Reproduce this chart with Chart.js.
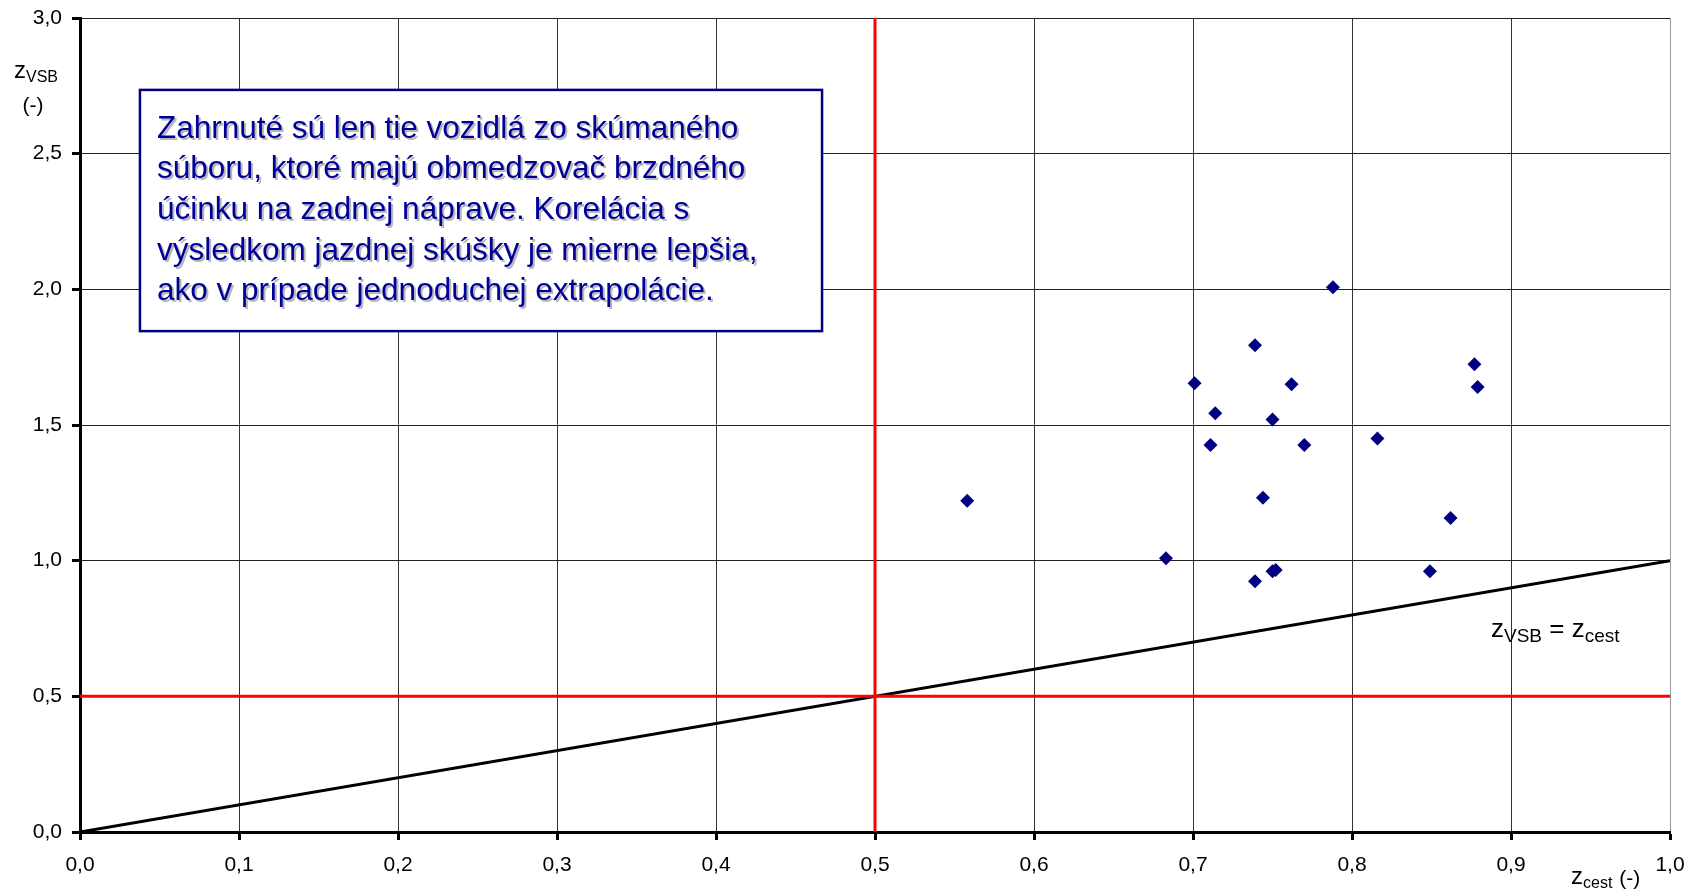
<!DOCTYPE html>
<html>
<head>
<meta charset="utf-8">
<script src="https://cdn.jsdelivr.net/npm/chart.js@4.4.1/dist/chart.umd.min.js"></script>
<style>
  html, body { margin: 0; padding: 0; background: #fff; }
  #wrap { width: 1690px; height: 890px; position: relative; }
</style>
</head>
<body>
<div id="wrap"><canvas id="c"></canvas></div>
<script>
// z_cest (x) and z_VSB (y) for vehicles with rear brake limiter
const zCest = [0.558, 0.683, 0.701, 0.711, 0.714, 0.739, 0.739, 0.744, 0.750, 0.750,
               0.752, 0.762, 0.770, 0.788, 0.816, 0.849, 0.862, 0.877, 0.879];
const zVsb  = [1.221, 1.009, 1.654, 1.426, 1.543, 1.794, 0.924, 1.232, 1.520, 0.961,
               0.966, 1.650, 1.426, 2.008, 1.450, 0.961, 1.157, 1.724, 1.640];

// reference lines
const diagX = [0, 1];
const diagY = [0, 1];
const limitVX = [0.5, 0.5];
const limitVY = [0, 3];
const limitHX = [0, 1];
const limitHY = [0.5, 0.5];

const xTicks = [0, 0.1, 0.2, 0.3, 0.4, 0.5, 0.6, 0.7, 0.8, 0.9, 1.0];
const yTicks = [0, 0.5, 1.0, 1.5, 2.0, 2.5, 3.0];

const noteLines = [
  'Zahrnuté sú len tie vozidlá zo skúmaného',
  'súboru, ktoré majú obmedzovač brzdného',
  'účinku na zadnej náprave. Korelácia s',
  'výsledkom jazdnej skúšky je mierne lepšia,',
  'ako v prípade jednoduchej extrapolácie.'
];

function pts(xs, ys) {
  return xs.map((x, i) => ({ x: x, y: ys[i] }));
}
function comma(v) {
  return Number(v).toFixed(1).replace('.', ',');
}

const FONT = 'Arial, "Liberation Sans", sans-serif';

// draws "z" + subscript
function subText(ctx, x, y, main, sub, big, small) {
  ctx.font = big + 'px ' + FONT;
  ctx.fillText(main, x, y);
  x += ctx.measureText(main).width;
  ctx.font = small + 'px ' + FONT;
  ctx.fillText(sub, x, y + small * 0.25);
  x += ctx.measureText(sub).width;
  return x;
}

const extras = {
  id: 'extras',
  afterDraw(chart) {
    const ctx = chart.ctx;
    const xs = chart.scales.x, ys = chart.scales.y;
    ctx.save();
    ctx.fillStyle = '#000';
    ctx.textBaseline = 'alphabetic';
    ctx.textAlign = 'left';

    // y axis title
    subText(ctx, 14, 78, 'z', 'VSB', 24, 16);
    ctx.font = '21px ' + FONT;
    ctx.textAlign = 'center';
    ctx.fillText('(-)', 33, 112);
    ctx.textAlign = 'left';

    // x axis title
    let px = subText(ctx, 1571, 884, 'z', 'cest', 24, 16);
    ctx.font = '21px ' + FONT;
    ctx.fillText('(-)', px + 7, 885);

    // line label
    px = subText(ctx, 1491, 637, 'z', 'VSB', 26, 19);
    ctx.font = '26px ' + FONT;
    ctx.fillText(' = z', px, 637);
    px += ctx.measureText(' = z').width;
    ctx.font = '19px ' + FONT;
    ctx.fillText('cest', px, 642);

    // note box
    const bl = xs.getPixelForValue(0.0377), br = xs.getPixelForValue(0.4667);
    const bt = ys.getPixelForValue(2.735), bb = ys.getPixelForValue(1.846);
    ctx.fillStyle = '#fff';
    ctx.fillRect(bl, bt, br - bl, bb - bt);
    ctx.strokeStyle = '#000080';
    ctx.lineWidth = 2.5;
    ctx.strokeRect(bl, bt, br - bl, bb - bt);

    ctx.font = '31.5px ' + FONT;
    ctx.textBaseline = 'middle';
    noteLines.forEach((t, i) => {
      const ty = bt + 39 + i * 40.7;
      ctx.fillStyle = '#b8b8b8';
      ctx.fillText(t, bl + 19, ty + 2);
      ctx.fillStyle = '#000099';
      ctx.fillText(t, bl + 17, ty);
    });
    ctx.restore();
  }
};

new Chart(document.getElementById('c'), {
  type: 'scatter',
  data: {
    datasets: [
      {
        label: 'vozidlá',
        data: pts(zCest, zVsb),
        pointStyle: 'rectRot',
        pointRadius: 7,
        pointHoverRadius: 7,
        backgroundColor: '#000080',
        borderColor: '#000080',
        borderWidth: 0,
        order: 0
      },
      {
        label: 'zVSB = zcest',
        data: pts(diagX, diagY),
        showLine: true,
        borderColor: '#000',
        borderWidth: 3,
        pointRadius: 0,
        order: 2
      },
      {
        label: 'limit x',
        data: pts(limitVX, limitVY),
        showLine: true,
        borderColor: '#ff0000',
        borderWidth: 3,
        pointRadius: 0,
        order: 1
      },
      {
        label: 'limit y',
        data: pts(limitHX, limitHY),
        showLine: true,
        borderColor: '#ff0000',
        borderWidth: 3,
        pointRadius: 0,
        order: 1
      }
    ]
  },
  options: {
    responsive: true,
    maintainAspectRatio: false,
    animation: false,
    devicePixelRatio: 1,
    layout: { padding: { top: 18, right: 20, left: 0, bottom: 0 } },
    plugins: {
      legend: { display: false },
      tooltip: { enabled: false }
    },
    scales: {
      x: {
        type: 'linear',
        min: 0,
        max: 1,
        afterBuildTicks: s => { s.ticks = xTicks.map(v => ({ value: v })); },
        afterFit: s => { s.height = 58; s.paddingLeft = 0; s.paddingRight = 0; },
        ticks: {
          callback: v => comma(v),
          color: '#000',
          font: { family: FONT, size: 21 },
          padding: 13,
          maxRotation: 0
        },
        grid: {
          color: c => (c.tick && c.tick.value === 1) ? '#999' : '#333',
          lineWidth: 1,
          tickColor: '#000',
          tickWidth: 3,
          tickLength: 8
        },
        border: { color: '#000', width: 3 }
      },
      y: {
        type: 'linear',
        min: 0,
        max: 3,
        afterBuildTicks: s => { s.ticks = yTicks.map(v => ({ value: v })); },
        afterFit: s => { s.width = 80; s.paddingTop = 0; s.paddingBottom = 0; },
        ticks: {
          callback: v => comma(v),
          color: '#000',
          font: { family: FONT, size: 21 },
          padding: 10
        },
        grid: {
          color: '#222',
          lineWidth: 1,
          tickColor: '#000',
          tickWidth: 3,
          tickLength: 8
        },
        border: { color: '#000', width: 3 }
      }
    }
  },
  plugins: [extras]
});
</script>
</body>
</html>
